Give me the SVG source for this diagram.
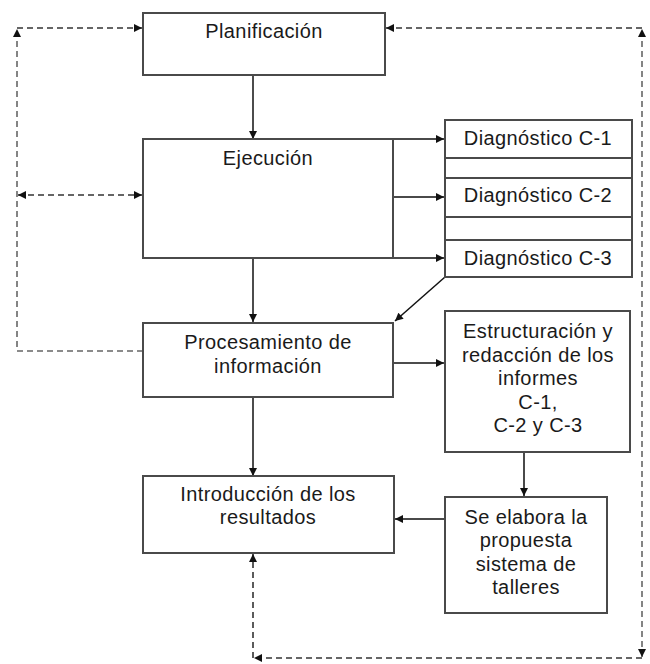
<svg xmlns="http://www.w3.org/2000/svg" width="650" height="664" viewBox="0 0 650 664">
<style>
.box{fill:#fff;stroke:#4a4a4a;stroke-width:2}
.t{font-family:"Liberation Sans",Arial,sans-serif;font-size:20px;letter-spacing:0.4px;text-anchor:middle;fill:#1a1a1a}
.ln{fill:none;stroke:#111;stroke-width:1.5}
.gl{fill:none;stroke:#4a4a4a;stroke-width:2}
.d{fill:none;stroke:#333;stroke-width:1.6;stroke-dasharray:6 4}
.dg{fill:none;stroke:#666;stroke-width:1.6;stroke-dasharray:6 4}
</style>
<defs>
<marker id="ah" viewBox="0 0 10 10" refX="10" refY="5" markerWidth="9" markerHeight="8" markerUnits="userSpaceOnUse" orient="auto-start-reverse">
<path d="M0,0 L10,5 L0,10 z" fill="#111"/>
</marker>
</defs>
<rect width="650" height="664" fill="#fff"/>

<g id="connectors">
<path class="ln" d="M253,75 V139" marker-end="url(#ah)"/>
<path class="gl" d="M393,139 H444" marker-end="url(#ah)"/>
<path class="gl" d="M393,197 H444" marker-end="url(#ah)"/>
<path class="gl" d="M393,258 H444" marker-end="url(#ah)"/>
<path class="gl" d="M393,139 V258"/>
<path class="ln" d="M445,277 L395,321" marker-end="url(#ah)"/>
<path class="ln" d="M253,258 V322" marker-end="url(#ah)"/>
<path class="ln" d="M393,363 H444" marker-end="url(#ah)"/>
<path class="ln" d="M253,397 V476" marker-end="url(#ah)"/>
<path class="gl" d="M524,452 V496" marker-end="url(#ah)"/>
<path class="gl" d="M445,519 H395" marker-end="url(#ah)"/>
<path class="d" d="M17,28 H142" marker-end="url(#ah)"/>
<path class="dg" d="M143,351 H17 V29" marker-end="url(#ah)"/>
<path class="d" d="M18,195 H142" marker-start="url(#ah)" marker-end="url(#ah)"/>
<path class="d" d="M642,28 H386" marker-end="url(#ah)"/>
<path class="dg" d="M642,657 V29" marker-start="url(#ah)" marker-end="url(#ah)"/>
<path class="d" d="M642,658 H254" marker-end="url(#ah)"/>
<path class="d" d="M253,658 V554" marker-end="url(#ah)"/>
</g>

<g id="planificacion">
<rect class="box" x="143" y="13" width="242" height="62"/>
<text class="t" x="264" y="38">Planificación</text>
</g>

<g id="ejecucion">
<path class="gl" d="M393,139 H143 V258 H393"/>
<text class="t" x="268" y="165">Ejecución</text>
</g>

<g id="diag-bands">
<rect class="box" x="445" y="158" width="187" height="20"/>
<rect class="box" x="445" y="217" width="187" height="23"/>
</g>

<g id="diagnostico-c1">
<rect class="box" x="445" y="120" width="187" height="38"/>
<text class="t" x="538" y="145">Diagnóstico C-1</text>
</g>

<g id="diagnostico-c2">
<rect class="box" x="445" y="178" width="187" height="39"/>
<text class="t" x="538" y="202">Diagnóstico C-2</text>
</g>

<g id="diagnostico-c3">
<rect class="box" x="445" y="240" width="187" height="37"/>
<text class="t" x="538" y="265">Diagnóstico C-3</text>
</g>

<g id="procesamiento">
<rect class="box" x="143" y="323" width="250" height="74"/>
<text class="t" x="268" y="349">Procesamiento de</text>
<text class="t" x="268" y="373">información</text>
</g>

<g id="estructuracion">
<rect class="box" x="445" y="311" width="185" height="141"/>
<text class="t" x="538" y="338">Estructuración y</text>
<text class="t" x="538" y="361.5">redacción de los</text>
<text class="t" x="538" y="385">informes</text>
<text class="t" x="538" y="408.5">C-1,</text>
<text class="t" x="538" y="432">C-2 y C-3</text>
</g>

<g id="introduccion">
<rect class="box" x="143" y="476" width="251" height="77"/>
<text class="t" x="268" y="501">Introducción de los</text>
<text class="t" x="268" y="524">resultados</text>
</g>

<g id="propuesta">
<rect class="box" x="445" y="497" width="162" height="116"/>
<text class="t" x="526" y="524">Se elabora la</text>
<text class="t" x="526" y="547">propuesta</text>
<text class="t" x="526" y="571">sistema de</text>
<text class="t" x="526" y="594">talleres</text>
</g>
</svg>
